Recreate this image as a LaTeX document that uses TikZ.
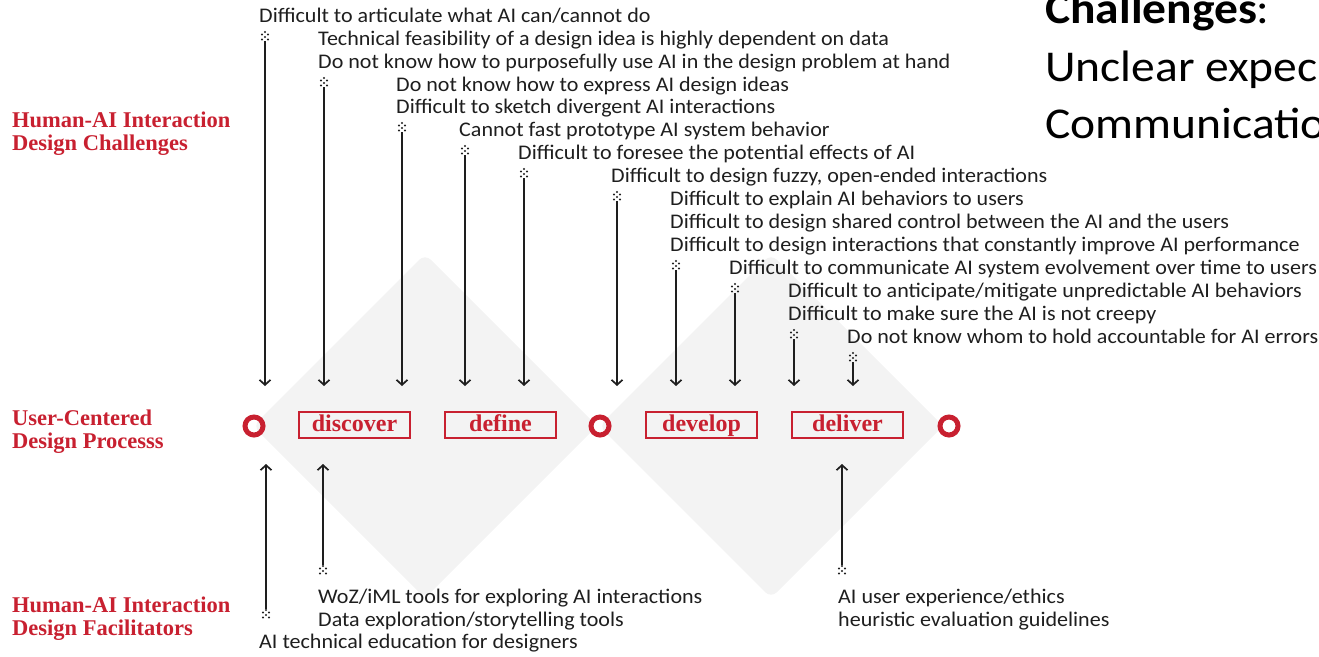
\documentclass[tikz,border=0pt]{standalone}
\usepackage{fontspec}
\usepackage{graphicx}
\setmainfont{Carlito}
\newfontfamily\redserif{Liberation Serif}
\usetikzlibrary{arrows.meta,calc}
\definecolor{ucdred}{RGB}{200,32,48}
\definecolor{diamondgray}{RGB}{243,243,243}
\definecolor{ink}{RGB}{30,30,30}
\newcommand{\wtxt}[1]{\scalebox{1.06}[1]{#1}}
\newcommand{\wbig}[1]{\scalebox{1.08}[1]{#1}}
\tikzset{
  txt/.style={anchor=base west,inner sep=0pt,text=ink,font=\fontsize{20.8}{21}\selectfont},
  redlab/.style={anchor=base west,inner sep=0pt,text=ucdred,font=\redserif\bfseries\fontsize{22.5}{23}\selectfont},
  phase/.style={draw=ucdred,line width=1.3pt,minimum width=111pt,minimum height=26pt,inner sep=0pt,
    text=ucdred,text height=15pt,text depth=3pt,font=\redserif\bfseries\fontsize{24}{24}\selectfont},
  ring/.style={circle,draw=ucdred,line width=5pt,minimum size=18pt,inner sep=0pt},
  arr/.style={draw=ink,line width=1.7pt,-{Straight Barb[length=5pt,width=11pt]}},
  bigtxt/.style={anchor=base west,inner sep=0pt,text=black,font=\fontsize{44}{44}\selectfont},
  mark/.pic={\fill[ink] (0,-5) circle (1.15pt) (-3,-2.5) circle (1.15pt) (3,-2.5) circle (1.15pt)
     (0,0) circle (1.15pt) (-3,2.5) circle (1.15pt) (3,2.5) circle (1.15pt);}
}
\begin{document}
\begin{tikzpicture}[x=1pt,y=-1pt]
\useasboundingbox (0,0) rectangle (1319,656);
\clip (0,0) rectangle (1319,656);
% background diamonds
\fill[diamondgray,rounded corners=8pt] (425,254) -- (597,426) -- (425,598) -- (253,426) -- cycle;
\fill[diamondgray,rounded corners=8pt] (771,254) -- (943,426) -- (771,598) -- (599,426) -- cycle;

% left red labels
\node[redlab] (hc1) at (12,127) {Human-AI Interaction};
\node[redlab] (hc2) at (12,150) {Design Challenges};
\node[redlab] (ucd1) at (12,425) {User-Centered};
\node[redlab] (ucd2) at (12,448) {Design Processs};
\node[redlab] (hf1) at (12,612) {Human-AI Interaction};
\node[redlab] (hf2) at (12,635) {Design Facilitators};

% process row
\node[ring] (c1) at (254,426) {};
\node[ring] (c2) at (600,426) {};
\node[ring] (c3) at (949,426) {};
\node[phase] (discover) at (354.5,425) {discover};
\node[phase] (define) at (500.5,425) {define};
\node[phase] (develop) at (701.5,425) {develop};
\node[phase] (deliver) at (847.5,425) {deliver};

% challenge texts
\node[txt] (t1) at (259,22) {\wtxt{Difficult to articulate what AI can/cannot do}};
\node[txt] (t2) at (318,45) {\wtxt{Technical feasibility of a design idea is highly dependent on data}};
\node[txt] (t3) at (318,68) {\wtxt{Do not know how to purposefully use AI in the design problem at hand}};
\node[txt] (t4) at (396,91) {\wtxt{Do not know how to express AI design ideas}};
\node[txt] (t5) at (396,113) {\wtxt{Difficult to sketch divergent AI interactions}};
\node[txt] (t6) at (459,136) {\wtxt{Cannot fast prototype AI system behavior}};
\node[txt] (t7) at (518,159) {\wtxt{Difficult to foresee the potential effects of AI}};
\node[txt] (t8) at (611,182) {\wtxt{Difficult to design fuzzy, open-ended interactions}};
\node[txt] (t9) at (670,205) {\wtxt{Difficult to explain AI behaviors to users}};
\node[txt] (t10) at (670,228) {\wtxt{Difficult to design shared control between the AI and the users}};
\node[txt] (t11) at (670,251) {\wtxt{Difficult to design interactions that constantly improve AI performance}};
\node[txt] (t12) at (729,274) {\wtxt{Difficult to communicate AI system evolvement over time to users}};
\node[txt] (t13) at (788,297) {\wtxt{Difficult to anticipate/mitigate unpredictable AI behaviors}};
\node[txt] (t14) at (788,320) {\wtxt{Difficult to make sure the AI is not creepy}};
\node[txt] (t15) at (847,343) {\wtxt{Do not know whom to hold accountable for AI errors}};

% challenge markers and arrows
\foreach \i/\x/\y in {1/265/37, 2/324/83, 3/402/128, 4/465/151, 5/524/174,
                      6/617/197, 7/676/266, 8/735/289, 9/794/335, 10/853/358}{
  \coordinate (m\i) at (\x,\y);
  \pic at (m\i) {mark};
  \coordinate (ms\i) at (\x,\y+4);
  \coordinate (e\i) at (\x,386);
  \draw[arr] (ms\i) -- (e\i);
}

% facilitator texts
\node[txt] (f1) at (259,648) {\wtxt{AI technical education for designers}};
\node[txt] (f2) at (318,603) {\wtxt{WoZ/iML tools for exploring AI interactions}};
\node[txt] (f3) at (318,626) {\wtxt{Data exploration/storytelling tools}};
\node[txt] (f4) at (838,603) {\wtxt{AI user experience/ethics}};
\node[txt] (f5) at (838,626) {\wtxt{heuristic evaluation guidelines}};

% facilitator markers and arrows
\foreach \i/\x/\y in {A/266/615, B/323/571, C/842/571}{
  \coordinate (m\i) at (\x,\y);
  \pic at (m\i) {mark};
  \coordinate (ms\i) at (\x,\y-6);
  \coordinate (e\i) at (\x,464);
  \draw[arr] (ms\i) -- (e\i);
}

% top-right fragment
\node[bigtxt,font=\fontsize{44}{44}\selectfont\bfseries] (chal) at (1045,23) {\wbig{Challenges\textmd{:}}};
\node[bigtxt] (unc) at (1045,81) {\wbig{Unclear expec}};
\node[bigtxt] (com) at (1045,138) {\wbig{Communicatio}};
\end{tikzpicture}
\end{document}
